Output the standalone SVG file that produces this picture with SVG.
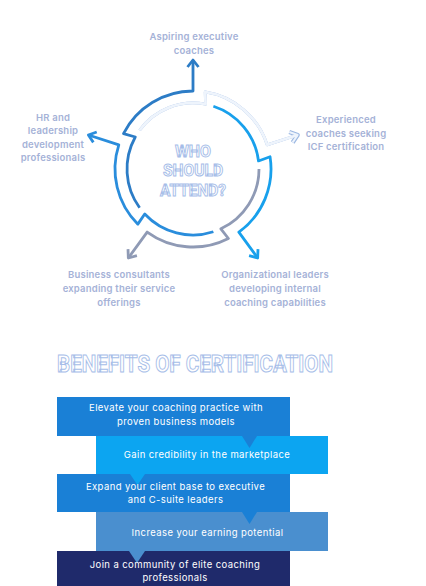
<svg xmlns="http://www.w3.org/2000/svg" width="426" height="586" viewBox="0 0 426 586">
<style>
.lbl{font-family:Inter,"Noto Sans",sans-serif;font-weight:600;font-size:9.5px;letter-spacing:0.2px;fill:#a5b2d7;text-anchor:middle}
.ol{font-family:Roboto,"Liberation Sans",sans-serif;font-weight:700;fill:#ffffff;stroke:#a6bde8;stroke-width:1;text-anchor:middle}
.bt{font-family:Inter,"Noto Sans",sans-serif;font-size:9.5px;letter-spacing:0.4px;fill:#ffffff;text-anchor:middle}
.seg{fill:none;stroke-width:2.8;stroke-linejoin:round;stroke-linecap:butt}
</style>
<defs>
<marker id="mA" markerUnits="userSpaceOnUse" viewBox="-10 -8 12 16" refX="0" refY="0" markerWidth="12" markerHeight="16" orient="auto"><path d="M-7,-5.5 L0,0 L-7,5.5" fill="none" stroke="#2c7cc6" stroke-width="2.8" stroke-linejoin="round"/></marker>
<marker id="mC" markerUnits="userSpaceOnUse" viewBox="-10 -8 12 16" refX="0" refY="0" markerWidth="12" markerHeight="16" orient="auto"><path d="M-7,-5.5 L0,0 L-7,5.5" fill="none" stroke="#18a0ec" stroke-width="2.8" stroke-linejoin="round"/></marker>
<marker id="mD" markerUnits="userSpaceOnUse" viewBox="-10 -8 12 16" refX="0" refY="0" markerWidth="12" markerHeight="16" orient="auto"><path d="M-7,-5.5 L0,0 L-7,5.5" fill="none" stroke="#8f9ab5" stroke-width="2.8" stroke-linejoin="round"/></marker>
<marker id="mE" markerUnits="userSpaceOnUse" viewBox="-10 -8 12 16" refX="0" refY="0" markerWidth="12" markerHeight="16" orient="auto"><path d="M-7,-5.5 L0,0 L-7,5.5" fill="none" stroke="#2a8ddc" stroke-width="2.8" stroke-linejoin="round"/></marker>
<marker id="mB1" markerUnits="userSpaceOnUse" viewBox="-12 -10 16 20" refX="0" refY="0" markerWidth="16" markerHeight="20" orient="auto"><path d="M-7,-5.5 L0,0 L-7,5.5" fill="none" stroke="#9cb8e2" stroke-width="4.4" stroke-linejoin="round"/></marker>
<marker id="mB2" markerUnits="userSpaceOnUse" viewBox="-12 -10 16 20" refX="0" refY="0" markerWidth="16" markerHeight="20" orient="auto"><path d="M-7,-5.5 L0,0 L-7,5.5" fill="none" stroke="#eef4fc" stroke-width="2" stroke-linejoin="round"/></marker>
</defs>

<g id="connectors">
<path id="segA" class="seg" stroke="#2c7cc6" marker-end="url(#mA)" d="M139.61,207.79 A66,66 0 0 1 135.28,137.00 L123.50,133.59 A78,78 0 0 1 193,91 L193,60"/>
<path id="segB-out" class="seg" stroke="#9cb8e2" stroke-width="4.4" marker-end="url(#mB1)" d="M139.61,130.21 A66,66 0 0 1 205.59,104.21 L205.20,91.96 A78,78 0 0 1 267.18,144.90 L297.62,135.01"/>
<path id="segB-in" class="seg" stroke="#eef4fc" stroke-width="2" marker-end="url(#mB2)" d="M139.61,130.21 A66,66 0 0 1 205.59,104.21 L205.20,91.96 A78,78 0 0 1 267.18,144.90 L297.62,135.01"/>
<path id="segC" class="seg" stroke="#18a0ec" marker-end="url(#mC)" d="M213.39,106.23 A66,66 0 0 1 258.51,160.96 L270.04,156.80 A78,78 0 0 1 238.85,232.10 L257.66,257.99"/>
<path id="segD" class="seg" stroke="#8f9ab5" marker-end="url(#mD)" d="M259,169 A66,66 0 0 1 220.89,228.82 L228.41,238.50 A78,78 0 0 1 147.15,232.10 L128.34,257.99"/>
<path id="segE" class="seg" stroke="#2a8ddc" marker-end="url(#mE)" d="M213.39,231.77 A66,66 0 0 1 144.73,214.01 L137.85,224.15 A78,78 0 0 1 118.82,144.90 L88.38,135.01"/>
</g>

<g id="center">
<text class="ol" font-size="17" x="193" y="156.5" textLength="36" lengthAdjust="spacingAndGlyphs">WHO</text>
<text class="ol" font-size="17" x="193" y="176" textLength="60" lengthAdjust="spacingAndGlyphs">SHOULD</text>
<text class="ol" font-size="17" x="193" y="195.5" textLength="66" lengthAdjust="spacingAndGlyphs">ATTEND?</text>
</g>

<g id="label-aspiring">
<text class="lbl" x="194" y="40">Aspiring executive</text>
<text class="lbl" x="194" y="54">coaches</text>
</g>
<g id="label-experienced">
<text class="lbl" x="346" y="123">Experienced</text>
<text class="lbl" x="346" y="137">coaches seeking</text>
<text class="lbl" x="346" y="150">ICF certification</text>
</g>
<g id="label-org">
<text class="lbl" x="275" y="278">Organizational leaders</text>
<text class="lbl" x="275" y="292">developing internal</text>
<text class="lbl" x="275" y="306">coaching capabilities</text>
</g>
<g id="label-business">
<text class="lbl" x="119" y="278">Business consultants</text>
<text class="lbl" x="119" y="292">expanding their service</text>
<text class="lbl" x="119" y="306">offerings</text>
</g>
<g id="label-hr">
<text class="lbl" x="53" y="121">HR and</text>
<text class="lbl" x="53" y="134">leadership</text>
<text class="lbl" x="53" y="148">development</text>
<text class="lbl" x="53" y="161">professionals</text>
</g>

<g id="title">
<text class="ol" font-size="24" x="195" y="372" textLength="276" lengthAdjust="spacingAndGlyphs">BENEFITS OF CERTIFICATION</text>
</g>

<g id="box1">
<rect x="57" y="397" width="233" height="39" fill="#1a80d6"/>
</g>
<g id="box2">
<rect x="96" y="436" width="232" height="38" fill="#0ca5f1"/>
</g>
<g id="box3">
<rect x="57" y="474" width="233" height="38" fill="#1a80d6"/>
</g>
<g id="box4">
<rect x="96" y="512" width="232" height="39" fill="#4a8fcf"/>
</g>
<g id="box5">
<rect x="57" y="551" width="233" height="35" fill="#1f2a6b"/>
</g>
<g id="notches">
<polygon points="242,436 257,436 249.5,448" fill="#1a80d6"/>
<polygon points="130,474 145,474 137.5,485" fill="#0ca5f1"/>
<polygon points="242,512 257,512 249.5,524" fill="#1a80d6"/>
<polygon points="129,551 145,551 137,563" fill="#4a8fcf"/>
</g>
<g id="box-texts">
<text class="bt" x="176" y="411">Elevate your coaching practice with</text>
<text class="bt" x="176" y="425">proven business models</text>
<text class="bt" x="207" y="458">Gain credibility in the marketplace</text>
<text class="bt" x="175.5" y="490">Expand your client base to executive</text>
<text class="bt" x="175.5" y="503">and C-suite leaders</text>
<text class="bt" x="207.5" y="536">Increase your earning potential</text>
<text class="bt" x="175" y="568">Join a community of elite coaching</text>
<text class="bt" x="175" y="581">professionals</text>
</g>
</svg>
